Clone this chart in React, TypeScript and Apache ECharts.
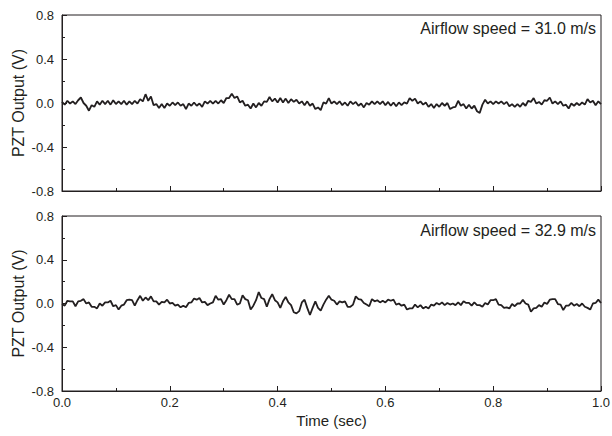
import React, { useEffect, useRef } from "react";
import * as echarts from "echarts";

// Sampling step of the recorded PZT signals (seconds)
const TIME_STEP = 0.005;

// Axis ticks
const X_TICKS = [0, 0.2, 0.4, 0.6, 0.8, 1.0];
const Y_TICKS = [-0.8, -0.4, 0, 0.4, 0.8];

const PANEL_LABELS = ["Airflow speed = 31.0 m/s", "Airflow speed = 32.9 m/s"];

// PZT output (V), airflow speed 31.0 m/s, every 0.005 s
const signal310 = [
  0.01, -0.015, 0.02, -0.005, 0.015, -0.01, 0.025, 0.05, 0.0, -0.025,
  -0.07, -0.02, -0.035, 0.015, -0.015, 0.02, -0.01, 0.02, -0.015, 0.025,
  -0.01, 0.015, -0.01, 0.02, -0.015, 0.015, -0.01, 0.02, -0.005, 0.035,
  0.015, 0.08, 0.02, 0.06, -0.02, -0.01, -0.045, -0.01, -0.045, -0.005,
  -0.025, 0.005, -0.02, 0.005, -0.025, -0.01, -0.055, -0.005, -0.025, 0.005,
  -0.025, -0.005, -0.035, 0.015, -0.005, 0.02, -0.005, 0.02, -0.005, 0.025,
  0.0, 0.045, 0.045, 0.085, 0.045, 0.06, 0.005, 0.02, -0.025, -0.015,
  -0.05, -0.005, -0.04, 0.0, -0.025, 0.015, 0.01, 0.055, 0.015, 0.04,
  0.005, 0.045, 0.005, 0.04, 0.0, 0.035, 0.01, 0.03, -0.005, 0.015,
  -0.02, 0.015, -0.025, -0.005, -0.055, -0.04, -0.065, 0.005, -0.005, 0.045,
  -0.005, 0.015, -0.01, 0.015, -0.02, 0.005, -0.025, 0.015, -0.01, 0.01,
  -0.025, -0.005, -0.04, 0.0, -0.015, 0.015, -0.01, 0.015, -0.01, 0.015,
  -0.02, 0.01, -0.025, 0.005, -0.03, 0.005, -0.02, 0.005, -0.005, 0.045,
  0.02, 0.04, -0.005, 0.015, -0.015, 0.005, -0.035, -0.01, -0.045, -0.01,
  -0.035, 0.0, -0.025, 0.0, -0.055, -0.04, -0.035, 0.02, -0.025, -0.01,
  -0.05, -0.015, -0.05, -0.025, -0.075, -0.09, -0.015, 0.03, -0.005, 0.015,
  -0.01, 0.015, -0.005, 0.015, -0.01, 0.01, -0.03, -0.01, -0.035, -0.01,
  -0.035, 0.0, -0.025, 0.02, 0.01, 0.045, -0.005, 0.01, -0.015, 0.025,
  0.02, 0.05, -0.005, 0.015, -0.01, 0.015, -0.025, -0.015, -0.05, -0.005,
  -0.025, 0.0, -0.02, 0.005, -0.015, 0.035, 0.005, 0.02, -0.02, 0.015,
  -0.01,
];

// PZT output (V), airflow speed 32.9 m/s, every 0.005 s
const signal329 = [
  -0.005, -0.02, 0.025, 0.02, 0.02, -0.025, 0.02, 0.025, 0.04, 0.0,
  0.01, -0.03, -0.03, -0.045, 0.0, -0.02, 0.01, 0.01, 0.025, -0.025,
  -0.015, -0.055, -0.02, -0.01, 0.03, 0.035, 0.03, -0.02, 0.03, 0.07,
  0.025, 0.055, 0.03, 0.065, 0.02, 0.02, -0.01, 0.015, 0.01, 0.035,
  0.0, 0.005, -0.02, -0.01, -0.035, -0.02, -0.035, 0.005, 0.01, 0.045,
  0.035, 0.05, 0.01, 0.015, -0.015, 0.0, 0.01, 0.07, 0.035, 0.04,
  -0.01, 0.03, 0.08, 0.04, 0.04, -0.01, 0.0, 0.075, 0.04, 0.03,
  -0.055, -0.02, 0.03, 0.105, 0.05, 0.04, -0.03, 0.04, 0.085, 0.03,
  0.01, -0.04, 0.02, 0.06, 0.01, -0.015, -0.08, -0.09, -0.07, 0.01,
  0.035, -0.04, -0.105, -0.04, 0.02, -0.04, -0.065, -0.01, 0.035, 0.07,
  0.035, 0.025, -0.01, 0.02, 0.01, 0.02, -0.03, -0.03, -0.01, 0.065,
  0.04, 0.035, 0.005, -0.01, -0.025, 0.04, 0.02, 0.03, 0.01, 0.025,
  0.01, 0.035, 0.025, 0.035, -0.01, 0.0, -0.02, -0.01, -0.055, -0.045,
  -0.045, -0.01, -0.035, -0.015, -0.045, -0.03, -0.045, -0.01, -0.02, 0.005,
  -0.01, 0.01, -0.015, 0.005, -0.01, 0.0, -0.015, 0.01, -0.015, 0.02,
  0.005, 0.005, -0.02, 0.01, -0.015, -0.015, -0.03, 0.005, -0.01, 0.03,
  0.03, 0.04, -0.01, -0.015, -0.04, -0.035, -0.045, -0.005, -0.025, 0.0,
  0.0, 0.035, 0.0, -0.01, -0.075, -0.045, -0.04, -0.015, -0.03, 0.01,
  -0.005, 0.035, 0.04, 0.04, -0.005, -0.01, -0.06, -0.02, -0.02, 0.005,
  -0.02, -0.005, -0.025, 0.0, -0.03, -0.04, -0.055, 0.0, 0.005, 0.035,
  0.005,
];

const FONT = "'Liberation Sans', Arial, Helvetica, sans-serif";
const INK = "#231f20";

const toPairs = (arr: number[]) =>
  arr.map((v, i) => [Number((i * TIME_STEP).toFixed(3)), v]);

export default function App() {
  const ref = useRef<HTMLDivElement>(null);

  useEffect(() => {
    if (!ref.current) return;
    const chart = echarts.init(ref.current, null, { renderer: "svg" });

    const grids = [
      { left: 62, right: 11, top: 15, height: 176 },
      { left: 62, right: 11, top: 216, height: 175 },
    ].map((g) => ({
      ...g,
      containLabel: false,
      outerBoundsMode: "none",
      show: true,
      borderColor: INK,
      borderWidth: 1,
      backgroundColor: "transparent",
    }));

    const xAxes = [0, 1].map((idx) => ({
      type: "value",
      gridIndex: idx,
      min: X_TICKS[0],
      max: X_TICKS[X_TICKS.length - 1],
      interval: X_TICKS[1] - X_TICKS[0],
      axisLine: { show: true, onZero: false, lineStyle: { color: INK, width: 1 } },
      axisTick: { show: true, inside: true, length: 5, lineStyle: { color: INK } },
      minorTick: { show: true, splitNumber: 2, length: 3, lineStyle: { color: INK } },
      splitLine: { show: false },
      axisLabel: {
        show: idx === 1,
        color: INK,
        fontFamily: FONT,
        fontSize: 13,
        margin: 5,
        formatter: (v: number) => v.toFixed(1),
      },
      name: idx === 1 ? "Time (sec)" : "",
      nameLocation: "middle",
      nameGap: 22,
      nameMoveOverlap: false,
      nameTextStyle: { color: INK, fontFamily: FONT, fontSize: 15 },
    }));

    const yAxes = [0, 1].map((idx) => ({
      type: "value",
      gridIndex: idx,
      min: Y_TICKS[0],
      max: Y_TICKS[Y_TICKS.length - 1],
      interval: Y_TICKS[1] - Y_TICKS[0],
      axisLine: { show: true, onZero: false, lineStyle: { color: INK, width: 1 } },
      axisTick: { show: true, inside: true, length: 5, lineStyle: { color: INK } },
      minorTick: { show: true, splitNumber: 2, length: 3, lineStyle: { color: INK } },
      splitLine: { show: false },
      axisLabel: {
        color: INK,
        fontFamily: FONT,
        fontSize: 13,
        margin: 8,
        formatter: (v: number) => v.toFixed(1),
      },
      name: "PZT Output (V)",
      nameLocation: "middle",
      nameGap: 36,
      nameMoveOverlap: false,
      nameRotate: 90,
      nameTextStyle: { color: INK, fontFamily: FONT, fontSize: 16 },
    }));

    chart.setOption({
      animation: false,
      backgroundColor: "#ffffff",
      grid: grids,
      xAxis: xAxes,
      yAxis: yAxes,
      series: [signal310, signal329].map((s, idx) => ({
        type: "line",
        xAxisIndex: idx,
        yAxisIndex: idx,
        data: toPairs(s),
        showSymbol: false,
        symbol: "none",
        lineStyle: { color: INK, width: 1.8 },
      })),
      graphic: PANEL_LABELS.map((t, idx) => ({
        type: "text",
        right: 16,
        top: idx === 0 ? 20 : 222,
        style: { text: t, fill: INK, font: `16px ${FONT}` },
      })),
    });

    return () => chart.dispose();
  }, []);

  return (
    <div
      ref={ref}
      style={{ position: "fixed", left: 0, top: 0, width: 612, height: 436 }}
    />
  );
}
